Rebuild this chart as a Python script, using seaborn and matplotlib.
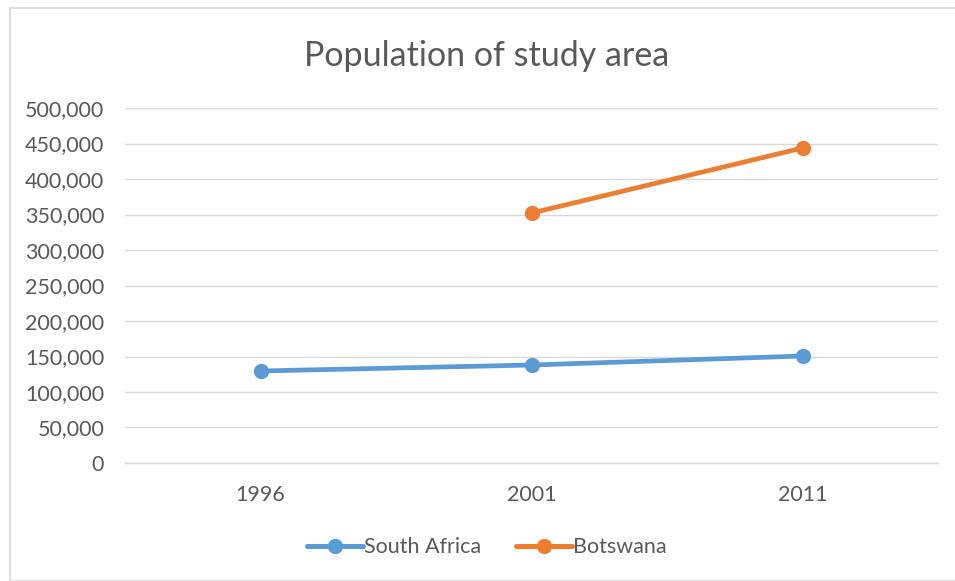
import pandas as pd
import seaborn as sns
import matplotlib.pyplot as plt
from matplotlib.patches import Rectangle
from matplotlib.ticker import FuncFormatter, MultipleLocator

# Values
years = ["1996", "2001", "2011"]
south_africa = [129600, 138000, 150700]
botswana_years = ["2001", "2011"]
botswana = [352000, 443700]

df = pd.concat([
    pd.DataFrame({"year": years, "population": south_africa, "country": "South Africa"}),
    pd.DataFrame({"year": botswana_years, "population": botswana, "country": "Botswana"}),
], ignore_index=True)
df["pos"] = df["year"].map({y: i for i, y in enumerate(years)})

sns.set_theme(style="white")
plt.rcParams["font.family"] = ["Lato", "DejaVu Sans"]

fig = plt.figure(figsize=(9.55, 5.81), dpi=100)
ax = fig.add_axes([0.1309, 0.2031, 0.8513, 0.6110])

palette = {"South Africa": "#5B9BD5", "Botswana": "#ED7D31"}
sns.lineplot(data=df, x="pos", y="population", hue="country", palette=palette,
             marker="o", markersize=11, markeredgewidth=0, linewidth=3.4,
             sort=True, ax=ax, legend=False)

ax.set_xlim(-0.5, 2.5)
ax.set_ylim(0, 500000)
ax.set_xticks(range(len(years)))
ax.set_xticklabels(years)
ax.yaxis.set_major_locator(MultipleLocator(50000))
ax.yaxis.set_major_formatter(FuncFormatter(lambda v, _: f"{int(v):,}"))
ax.grid(axis="y", color="#D9D9D9", linewidth=1)
ax.set_axisbelow(True)
for s in ["top", "right", "left"]:
    ax.spines[s].set_visible(False)
ax.spines["bottom"].set_color("#D9D9D9")
ax.spines["bottom"].set_linewidth(1)
ax.tick_params(axis="both", length=0, labelsize=15.5, colors="#595959")
ax.tick_params(axis="y", pad=15)
ax.tick_params(axis="x", pad=16)
ax.set_xlabel("")
ax.set_ylabel("")

fig.text(0.51, 0.903, "Population of study area", ha="center", va="center",
         fontsize=24.5, color="#595959")

handles = [plt.Line2D([], [], color=palette[c], marker="o", markersize=11,
                      markeredgewidth=0, linewidth=3.6) for c in palette]
fig.legend(handles, list(palette), loc="center", bbox_to_anchor=(0.51, 0.058),
           ncol=2, frameon=False, fontsize=15.5, handlelength=2.6,
           handletextpad=0.05, columnspacing=1.6, labelcolor="#595959")

fig.patches.append(Rectangle((10 / 955, 0), 1, 1 - 8 / 581, transform=fig.transFigure,
                             fill=False, edgecolor="#D9D9D9", linewidth=1.2))

fig.savefig("out.png", dpi=100)
